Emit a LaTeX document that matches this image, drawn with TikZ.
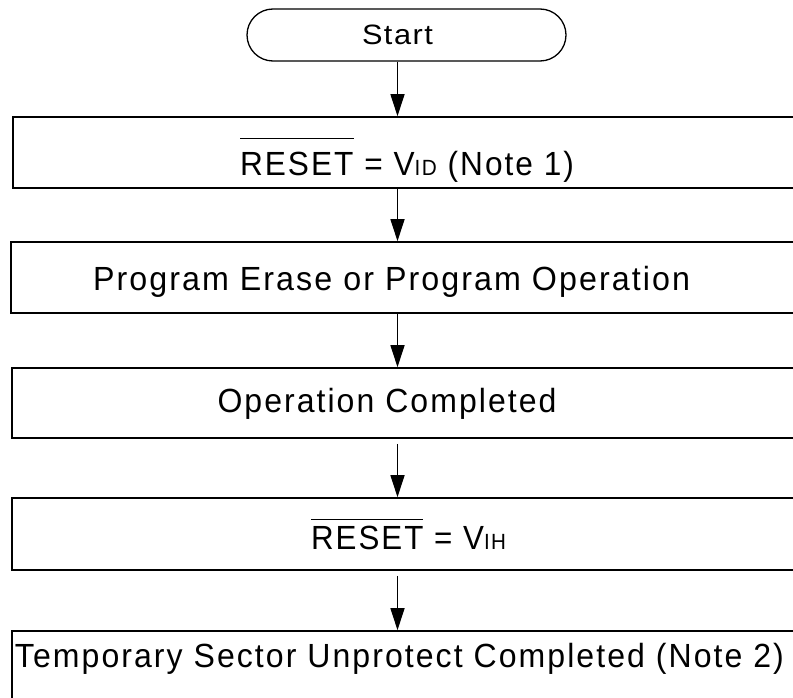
\documentclass[tikz,border=0pt]{standalone}
\usepackage{fontspec}
\setmainfont{Liberation Sans}
\newfontfamily\narrowf[FakeStretch=0.78,LetterSpace=5]{Liberation Sans}
\newfontfamily\spacedf[LetterSpace=5]{Liberation Sans}
\usepackage{graphicx}
\usetikzlibrary{arrows.meta}
\newcommand\fitto[2]{\setbox0=\hbox{#2}\pgfmathsetmacro\fitsx{#1/\the\wd0}\scalebox{\fitsx}[1]{\copy0\relax}}
\newcommand\ovbar[2]{\setbox2=\hbox{#2}\rlap{\rule[#1]{\wd2}{1.4pt}}\copy2\relax}
\newcommand\subsc[1]{{\fontsize{22}{22}\selectfont #1}}
\begin{document}
\begin{tikzpicture}[x=1pt,y=-1pt,
  box/.style={draw, line width=1.6pt, inner sep=0pt},
  term/.style={draw, line width=1.3pt, rounded corners=26pt, inner sep=0pt, minimum width=319pt, minimum height=52pt},
  lbl/.style={anchor=base, inner sep=0pt, font=\narrowf\fontsize{33.5}{40}\selectfont},
  slbl/.style={anchor=base, inner sep=0pt, font=\spacedf\fontsize{28}{32}\selectfont},
  arr/.style={line width=1.3pt, -{Triangle[length=22pt,width=14pt]}}]
\path[use as bounding box] (0,0) rectangle (793,698);
\clip (0,0) rectangle (793,698);
\node[term] (st) at (406.5,35) {};
\node[box, minimum width=817pt, minimum height=71pt] (b1) at (421.5,152.5) {};
\node[box, minimum width=819pt, minimum height=71pt] (b2) at (420.5,277.5) {};
\node[box, minimum width=818pt, minimum height=70pt] (b3) at (421,403) {};
\node[box, minimum width=818pt, minimum height=72pt] (b4) at (421,534) {};
\node[box, minimum width=818pt, minimum height=109pt] (b5) at (421,685.5) {};
\node[slbl] (tst) at (397.5,45) {\fitto{71}{Start}};
\node[lbl] (t1) at (407,176) {\fitto{334}{\ovbar{37pt}{RESET} = V\subsc{ID} (Note 1)}};
\node[lbl] (t2) at (391.5,290) {\fitto{597}{Program Erase or Program Operation}};
\node[lbl] (t3) at (387,412) {\fitto{339}{Operation Completed}};
\node[lbl] (t4) at (408.5,549) {\fitto{195}{\ovbar{29pt}{RESET} = V\subsc{IH}}};
\node[lbl] (t5) at (399.5,667) {\fitto{769}{Temporary Sector Unprotect Completed (Note 2)}};
\coordinate (ax) at (397.5,0);
\draw[arr] (st.south -| ax) -- (b1.north -| ax);
\draw[arr] (b1.south -| ax) -- (b2.north -| ax);
\draw[arr] (b2.south -| ax) -- (b3.north -| ax);
\draw[arr, shorten <=5pt] (b3.south -| ax) -- (b4.north -| ax);
\draw[arr, shorten <=5pt] (b4.south -| ax) -- (b5.north -| ax);
\end{tikzpicture}
\end{document}
